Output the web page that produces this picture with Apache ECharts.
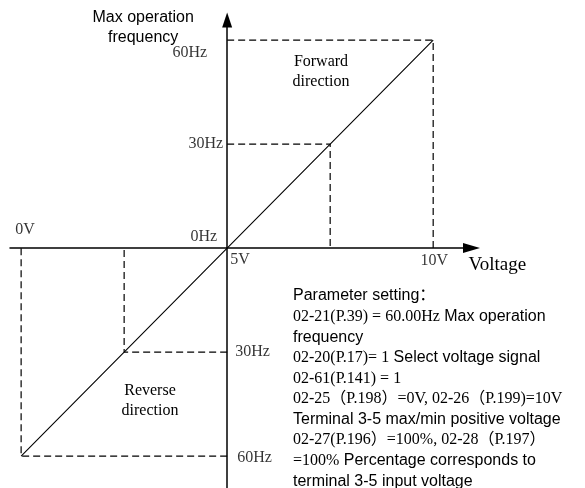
<!DOCTYPE html>
<html>
<head>
<meta charset="utf-8">
<script src="https://cdn.jsdelivr.net/npm/echarts@6.0.0/dist/echarts.min.js"></script>
<style>
  html, body { margin: 0; padding: 0; background: #fff; }
  #main { width: 585px; height: 488px; }
</style>
</head>
<body>
<div id="main"></div>
<script>
// 电压 -> 频率 对应关系
const voltage = [0, 2.5, 5, 7.5, 10];
const frequency = [-60, -30, 0, 30, 60];

// 刻度标签
const freqTicks = [60, 30, 0, -30, -60];
const freqTickLabels = ['60Hz', '30Hz', '0Hz', '30Hz', '60Hz'];
const voltTicks = [0, 5, 10];
const voltTickLabels = ['0V', '5V', '10V'];

const SERIF = '"Liberation Serif", "Times New Roman", "Noto Sans CJK SC", serif';
const SANS = '"Liberation Sans", Arial, "Noto Sans CJK SC", sans-serif';

// label placement (layout only)
const freqLabelLayout = [
  { align: 'right', offset: [-20, 13] },
  { align: 'right', offset: [-4, 0] },
  { align: 'right', offset: [-10, -11] },
  { align: 'left', offset: [8, 0] },
  { align: 'left', offset: [10, 2] }
];
const voltLabelLayout = [
  { align: 'left', offset: [-6, -18] },
  { align: 'left', offset: [3, 12] },
  { align: 'center', offset: [1, 13] }
];

const centerV = 5;
const gridLeft = 10;

const guideSeries = voltage
  .map((v, i) => ({ v: v, f: frequency[i] }))
  .filter(p => p.v !== centerV)
  .map(p => ({
    type: 'line',
    data: [[centerV, p.f], [p.v, p.f], [p.v, 0]],
    symbol: 'none',
    silent: true,
    lineStyle: { color: '#000', width: 1.2, type: [7, 4] }
  }));

const labelItems = [];
freqTicks.forEach((f, i) => {
  labelItems.push({
    value: [centerV, f],
    label: { formatter: freqTickLabels[i], align: freqLabelLayout[i].align, offset: freqLabelLayout[i].offset }
  });
});
voltTicks.forEach((v, i) => {
  labelItems.push({
    value: [v, 0],
    label: { formatter: voltTickLabels[i], align: voltLabelLayout[i].align, offset: voltLabelLayout[i].offset }
  });
});

const paramText = [
  '{s|Parameter setting：}',
  '{t|02-21(P.39) = 60.00Hz}{s| Max operation}',
  '{s|frequency}',
  '{t|02-20(P.17)= 1}{s| Select voltage signal}',
  '{t|02-61(P.141) = 1}',
  '{t|02-25（P.198）=0V, 02-26（P.199)=10V}',
  '{s|Terminal 3-5 max/min positive voltage}',
  '{t|02-27(P.196）=100%, 02-28（P.197）}',
  '{t|=100%}{s| Percentage corresponds to}',
  '{s|terminal 3-5 input voltage}'
].join('\n');

const chart = echarts.init(document.getElementById('main'));

chart.setOption({
  animation: false,
  backgroundColor: '#fff',
  grid: { left: gridLeft, top: 20, width: 461.5, height: 468, outerBoundsMode: 'none' },
  xAxis: {
    type: 'value',
    min: -0.27,
    max: 10.93,
    name: 'Voltage',
    nameLocation: 'end',
    nameGap: -3,
    nameTextStyle: { color: '#000', fontFamily: SERIF, fontSize: 19, verticalAlign: 'top', padding: [7, 0, 0, 0] },
    axisLine: { onZero: true, symbol: ['none', 'triangle'], symbolSize: [10, 17], lineStyle: { color: '#000', width: 1.5 } },
    axisTick: { show: false },
    axisLabel: { show: false },
    splitLine: { show: false }
  },
  yAxis: {
    type: 'value',
    min: -69.2,
    max: 65.8,
    name: 'Max operation\nfrequency',
    nameLocation: 'end',
    nameGap: 12,
    nameTextStyle: { color: '#000', fontFamily: SANS, fontSize: 16, lineHeight: 20, align: 'center', verticalAlign: 'top', padding: [0, 168, 0, 0] },
    axisLine: { onZero: false, symbol: ['none', 'triangle'], symbolSize: [10, 15], lineStyle: { color: '#000', width: 1.5 } },
    axisTick: { show: false },
    axisLabel: { show: false },
    splitLine: { show: false }
  },
  series: [
    {
      type: 'line',
      data: voltage.map((v, i) => [v, frequency[i]]),
      symbol: 'none',
      silent: true,
      lineStyle: { color: '#000', width: 1.1 }
    },
    ...guideSeries,
    {
      type: 'scatter',
      data: labelItems,
      symbolSize: 0.1,
      silent: true,
      itemStyle: { color: 'rgba(0,0,0,0)' },
      label: { show: true, position: 'inside', color: '#000', fontFamily: SERIF, fontSize: 16 }
    }
  ],
  graphic: [
    {
      type: 'text',
      x: 321, y: 72,
      style: { text: 'Forward\ndirection', fill: '#000', font: '16px ' + SERIF, textAlign: 'center', textVerticalAlign: 'middle', lineHeight: 20 }
    },
    {
      type: 'text',
      x: 150, y: 401,
      style: { text: 'Reverse\ndirection', fill: '#000', font: '16px ' + SERIF, textAlign: 'center', textVerticalAlign: 'middle', lineHeight: 20 }
    },
    {
      type: 'text',
      x: 293, y: 285.7,
      style: {
        text: paramText,
        fill: '#000',
        textVerticalAlign: 'top',
        lineHeight: 20.6,
        rich: {
          s: { fontFamily: SANS, fontSize: 16, lineHeight: 20.6, fill: '#000' },
          t: { fontFamily: SERIF, fontSize: 16, lineHeight: 20.6, fill: '#000' }
        }
      }
    }
  ]
});

// y 轴放在 5V 处
const axisX = chart.convertToPixel({ xAxisIndex: 0 }, centerV);
chart.setOption({ yAxis: { offset: gridLeft - axisX } });
</script>
</body>
</html>
